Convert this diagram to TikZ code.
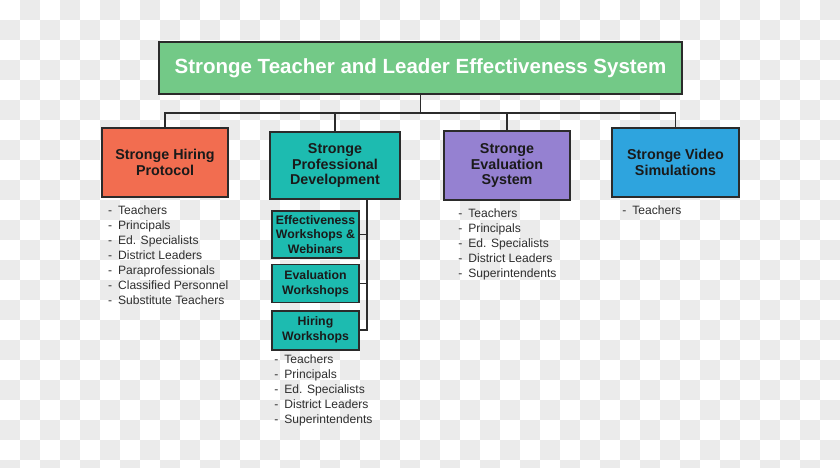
\documentclass[tikz,border=0pt]{standalone}
\usepackage{fontspec}
\setmainfont{Liberation Sans}
\usetikzlibrary{
	calc,
	positioning
	}
\definecolor{checker}{HTML}{EBEBEB}
\definecolor{sysgreen}{HTML}{73C987}
\definecolor{hireorange}{HTML}{F26D50}
\definecolor{pdteal}{HTML}{1DBBB0}
\definecolor{evalpurple}{HTML}{9581D1}
\definecolor{videoblue}{HTML}{2EA4DE}
\definecolor{boxline}{HTML}{2B2B2B}
\definecolor{boxtext}{HTML}{1A1A1A}
\definecolor{listtext}{HTML}{2E2E2E}
\tikzset{font={\fontsize{14.3pt}{15.3pt}\selectfont\bfseries}}
\tikzstyle{box-std}=[draw=boxline,line width=1.6pt,text=boxtext,align=center,inner sep=0pt]
\tikzstyle{box-sub}=[box-std,fill=pdteal,minimum width=87pt,font={\fontsize{12.3pt}{14.8pt}\selectfont\bfseries}]
\tikzstyle{liste}=[align=left,inner sep=0pt,text=listtext,font={\fontsize{12.1pt}{15pt}\selectfont}]
\tikzstyle{trait}=[draw=boxline,line width=1.5pt]
\newcommand{\tiret}[1]{\makebox[10pt][l]{-}#1}

\begin{document}
\begin{tikzpicture}[x=1pt,y=-1pt]
            \useasboundingbox (0,0) rectangle (840,467);
            % background
            \fill[white] (0,0) rectangle (840,467);
            \begin{scope}
            \clip (0,0) rectangle (840,467);
            \foreach \i in {0,...,41}
               \foreach \j in {0,...,23}
                  {\ifodd\numexpr\i+\j\relax \fill[checker] (20*\i,20*\j) rectangle ++(20,20); \fi}
            \end{scope}
            %
            \node[box-std, fill=sysgreen, text=white, minimum width=523pt, minimum height=52pt,
               font={\fontsize{20.5pt}{22pt}\selectfont\bfseries}] (sys) at (420.5,68)
               {Stronge Teacher and Leader Effectiveness System};

            \node[box-std, fill=hireorange, minimum width=126pt, minimum height=69pt] (hire) at (165,162.5) {Stronge Hiring\\Protocol};
            \node[box-std, fill=pdteal, minimum width=130pt, minimum height=67pt] (pd) at (335,165.5) {Stronge\\Professional\\Development};
            \node[box-std, fill=evalpurple, minimum width=126pt, minimum height=69pt] (eval) at (507,165.5) {Stronge\\Evaluation\\System};
            \node[box-std, fill=videoblue, minimum width=127pt, minimum height=69pt] (video) at (675.5,162.5) {Stronge Video\\Simulations};

            \node[box-sub, minimum height=47pt] (pd-eff) at (315.5,234.5) {Effectiveness\\Workshops \&\\Webinars};
            \node[box-sub, minimum height=38pt, below=5pt of pd-eff] (pd-eval) {Evaluation\\Workshops};
            \node[box-sub, minimum height=39pt, below=6.5pt of pd-eval] (pd-hire) {Hiring\\Workshops};
            %
            \coordinate (bus) at ($(sys.south)+(0,18)$);
            \draw[trait] (sys.south) -- (bus);
            \draw[trait] (hire.north) |- (bus) -| (video.north);
            \draw[trait] (pd.north) -- (pd.north |- bus);
            \draw[trait] (eval.north) -- (eval.north |- bus);

            \coordinate (spine) at ($(pd.south)+(32,0)$);
            \draw[trait] (spine) |- (pd-hire.east);
            \draw[trait] (pd-eff.east) -- (pd-eff.east -| spine);
            \draw[trait] (pd-eval.east) -- (pd-eval.east -| spine);
            %
            \node[liste, below right=8pt and 6.7pt of hire.south west] (l-hire)
               {\tiret{Teachers}\\\tiret{Principals}\\\tiret{Ed. Specialists}\\\tiret{District Leaders}\\
                \tiret{Paraprofessionals}\\\tiret{Classified Personnel}\\\tiret{Substitute Teachers}};
            \node[liste, below right=4.5pt and 3pt of pd-hire.south west] (l-pd)
               {\tiret{Teachers}\\\tiret{Principals}\\\tiret{Ed. Specialists}\\\tiret{District Leaders}\\\tiret{Superintendents}};
            \node[liste, below right=8.2pt and 15pt of eval.south west] (l-eval)
               {\tiret{Teachers}\\\tiret{Principals}\\\tiret{Ed. Specialists}\\\tiret{District Leaders}\\\tiret{Superintendents}};
            \node[liste, below right=7.8pt and 11pt of video.south west] (l-video)
               {\tiret{Teachers}};
        \end{tikzpicture}
\end{document}
